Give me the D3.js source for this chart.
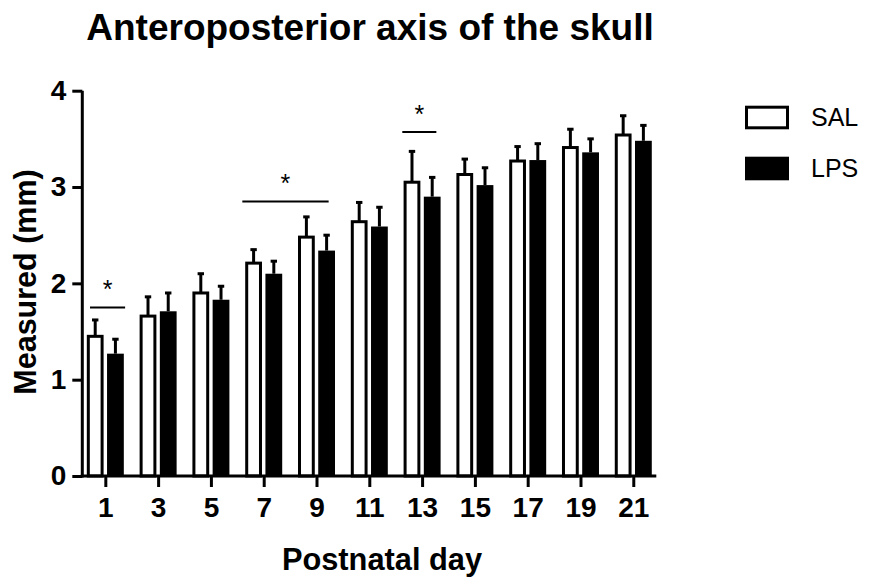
<!DOCTYPE html>
<html>
<head>
<meta charset="utf-8">
<script src="https://cdn.jsdelivr.net/npm/d3@7"></script>
<style>
  html, body { margin: 0; padding: 0; background: #fff; }
  svg { display: block; font-family: "Liberation Sans", Arial, sans-serif; }
</style>
</head>
<body>
<svg id="chart" width="870" height="578"></svg>
<script>
const days = ["1","3","5","7","9","11","13","15","17","19","21"];
const series = ["SAL","LPS"];
const salMean = [1.45,1.66,1.90,2.21,2.48,2.64,3.05,3.13,3.27,3.41,3.54];
const salErr  = [0.17,0.20,0.20,0.14,0.21,0.20,0.32,0.16,0.15,0.19,0.20];
const lpsMean = [1.27,1.71,1.83,2.10,2.34,2.59,2.90,3.02,3.28,3.36,3.48];
const lpsErr  = [0.15,0.19,0.14,0.13,0.16,0.20,0.20,0.18,0.17,0.14,0.16];
const yTicks = [0,1,2,3,4];
// significance brackets: [from day, to day, level (mm)]
const sigFrom  = [0.42, 6.19, 12.25];
const sigTo    = [1.75, 9.46, 13.54];
const sigLevel = [1.75, 2.85, 3.57];

const svg = d3.select("#chart");
const pLeft = 82.3, pRight = 656.3, pBottom = 476, pTop = 90.7;

const x = d3.scalePoint().domain(days).range([pLeft, pRight]).padding(0.436);
const xLin = d3.scaleLinear().domain([1, 21]).range([x("1"), x("21")]);
const xs = d3.scaleBand().domain(series).range([-18.5, 18.5]).paddingInner(0.17);
const y = d3.scaleLinear().domain([0, 4]).range([pBottom, pTop]);

const data = days.map((d, i) => ({
  day: d,
  vals: [
    {s: "SAL", m: salMean[i], e: salErr[i]},
    {s: "LPS", m: lpsMean[i], e: lpsErr[i]}
  ]
}));

const g = svg.append("g");
const groups = g.selectAll("g.day").data(data).enter().append("g")
  .attr("transform", d => `translate(${x(d.day)},0)`);

// error bars (behind bars)
groups.selectAll("g.err").data(d => d.vals).enter().append("g").each(function(v) {
  const cx = xs(v.s) + xs.bandwidth() / 2;
  const sel = d3.select(this);
  sel.append("line").attr("x1", cx).attr("x2", cx)
    .attr("y1", y(v.m)).attr("y2", y(v.m + v.e))
    .attr("stroke", "#000").attr("stroke-width", 3);
  sel.append("line").attr("x1", cx - 3.2).attr("x2", cx + 3.2)
    .attr("y1", y(v.m + v.e)).attr("y2", y(v.m + v.e))
    .attr("stroke", "#000").attr("stroke-width", 3);
});

// bars
groups.selectAll("rect").data(d => d.vals).enter().append("rect")
  .attr("x", v => v.s === "SAL" ? xs(v.s) + 1.5 : xs(v.s))
  .attr("width", v => v.s === "SAL" ? xs.bandwidth() - 3 : xs.bandwidth())
  .attr("y", v => y(v.m))
  .attr("height", v => y(0) - y(v.m))
  .attr("fill", v => v.s === "SAL" ? "#fff" : "#000")
  .attr("stroke", v => v.s === "SAL" ? "#000" : "none")
  .attr("stroke-width", 3);

// axes
const yAxis = g.append("g").attr("transform", `translate(${pLeft},0)`)
  .call(d3.axisLeft(y).tickValues(yTicks).tickFormat(d3.format("d")).tickSize(10).tickPadding(6));
const xAxis = g.append("g").attr("transform", `translate(0,${pBottom})`)
  .call(d3.axisBottom(x).tickSize(11).tickPadding(10));
[xAxis, yAxis].forEach(ax => {
  ax.attr("font-size", null).attr("font-family", null);
  ax.select(".domain").attr("stroke", "#000").attr("stroke-width", 3);
  ax.selectAll(".tick line").attr("stroke", "#000").attr("stroke-width", 3);
  ax.selectAll(".tick text").attr("fill", "#000")
    .style("font-size", "28px").style("font-weight", "bold")
    .style("font-family", "'Liberation Sans', Arial, sans-serif");
});
yAxis.select(".domain").attr("d", `M0,${pTop}V${pBottom + 1.5}`);
xAxis.select(".domain").attr("d", `M${pLeft - 1.5},0H${pRight}`);

// significance
sigLevel.forEach((lv, i) => {
  const x0 = xLin(sigFrom[i]), x1 = xLin(sigTo[i]);
  g.append("line").attr("x1", x0).attr("x2", x1).attr("y1", y(lv)).attr("y2", y(lv))
    .attr("stroke", "#000").attr("stroke-width", 2);
  g.append("text").attr("x", (x0 + x1) / 2).attr("y", y(lv) - 9)
    .attr("text-anchor", "middle").style("font-size", "25px").text("*");
});

// titles
svg.append("text").attr("x", 370).attr("y", 40).attr("text-anchor", "middle")
  .style("font-size", "37px").style("font-weight", "bold")
  .text("Anteroposterior axis of the skull");
svg.append("text").attr("x", 382).attr("y", 570).attr("text-anchor", "middle")
  .style("font-size", "30.8px").style("font-weight", "bold")
  .text("Postnatal day");
svg.append("text").attr("transform", "translate(36,282) rotate(-90)").attr("text-anchor", "middle")
  .style("font-size", "30.5px").style("font-weight", "bold")
  .text("Measured (mm)");

// legend
const leg = svg.append("g");
series.forEach((s, i) => {
  const yy = 107.2 + i * 51;
  leg.append("rect").attr("x", 746.5).attr("y", yy).attr("width", 41).attr("height", 20.6)
    .attr("fill", s === "SAL" ? "#fff" : "#000")
    .attr("stroke", "#000").attr("stroke-width", 3);
  leg.append("text").attr("x", 811).attr("y", yy + 19).style("font-size", "25px").text(s);
});
</script>
</body>
</html>
